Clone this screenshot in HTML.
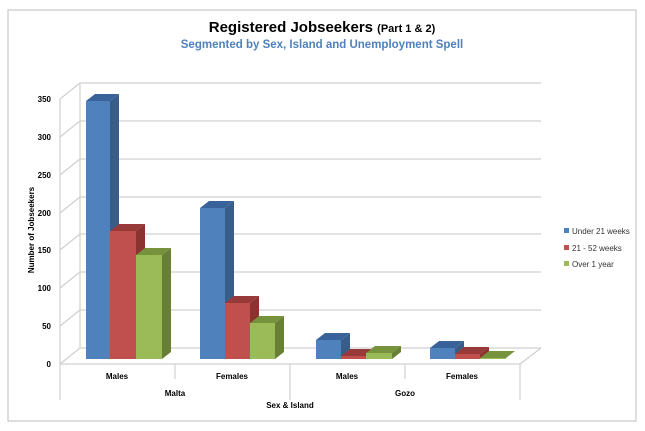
<!DOCTYPE html>
<html><head><meta charset="utf-8"><style>
body{margin:0;background:#fff}
text{font-family:"Liberation Sans",sans-serif}
</style></head><body>
<svg width="645" height="426" viewBox="0 0 645 426" xmlns="http://www.w3.org/2000/svg">
<rect x="8" y="10" width="628" height="411" fill="#fff" stroke="#c8c8c8" stroke-width="1.2"/>
<text x="322" y="32" text-anchor="middle" font-size="15" font-weight="bold" fill="#000">Registered Jobseekers <tspan font-size="11">(Part 1 &amp; 2)</tspan></text>
<text x="322" y="48" text-anchor="middle" font-size="11.5" font-weight="bold" fill="#4f81bd">Segmented by Sex, Island and Unemployment Spell</text>
<g stroke="#d0d0d0" stroke-width="1.2" fill="none">
<line x1="80" y1="83" x2="80" y2="348"/>
<line x1="80" y1="83" x2="541" y2="83"/><line x1="80" y1="121" x2="541" y2="121"/>
<line x1="80" y1="159" x2="541" y2="159"/><line x1="80" y1="197" x2="541" y2="197"/>
<line x1="80" y1="234" x2="541" y2="234"/><line x1="80" y1="272" x2="541" y2="272"/>
<line x1="80" y1="310" x2="541" y2="310"/><line x1="80" y1="348" x2="541" y2="348"/>
<line x1="60" y1="99" x2="80" y2="83"/><line x1="60" y1="137" x2="80" y2="121"/>
<line x1="60" y1="175" x2="80" y2="159"/><line x1="60" y1="213" x2="80" y2="197"/>
<line x1="60" y1="250" x2="80" y2="234"/><line x1="60" y1="288" x2="80" y2="272"/>
<line x1="60" y1="326" x2="80" y2="310"/><line x1="60" y1="364" x2="80" y2="348"/>
<line x1="520" y1="364" x2="541" y2="348"/>
<line x1="60" y1="364" x2="520" y2="364"/>
<line x1="60" y1="99" x2="60" y2="400"/>
<line x1="175" y1="364" x2="175" y2="379"/>
<line x1="290" y1="364" x2="290" y2="400"/>
<line x1="405" y1="364" x2="405" y2="379"/>
<line x1="520" y1="364" x2="520" y2="400"/>
</g>
<g font-size="8" font-weight="bold" fill="#000" text-anchor="end">
<text x="51" y="102">350</text><text x="51" y="140">300</text><text x="51" y="178">250</text>
<text x="51" y="216">200</text><text x="51" y="253">150</text><text x="51" y="291">100</text>
<text x="51" y="329">50</text><text x="51" y="367">0</text>
</g>
<text transform="translate(34,230) rotate(-90)" text-anchor="middle" font-size="8" font-weight="bold">Number of Jobseekers</text>
<g font-size="8" font-weight="bold" text-anchor="middle">
<text x="117" y="379">Males</text><text x="232" y="379">Females</text>
<text x="347" y="379">Males</text><text x="462" y="379">Females</text>
<text x="175" y="396">Malta</text><text x="405" y="396">Gozo</text>
<text x="290" y="408">Sex &amp; Island</text>
</g>
<g id="bars"></g>
<g font-size="8" fill="#333">
<rect x="564" y="228" width="5" height="5" fill="#4f81bd"/><text x="572" y="234">Under 21 weeks</text>
<rect x="564" y="245" width="5" height="5" fill="#c0504d"/><text x="572" y="251">21 - 52 weeks</text>
<rect x="564" y="261" width="5" height="5" fill="#9bbb59"/><text x="572" y="267">Over 1 year</text>
</g>
<g>
<!-- bars generated manually -->
<polygon points="110,101 119,94 119,352 110,359" fill="#385d8a"/><polygon points="86,101 110,101 119,94 95,94" fill="#3a629a"/><rect x="86" y="101" width="24" height="258" fill="#4f81bd"/>
<polygon points="136,231 145,224 145,352 136,359" fill="#8c3230"/><polygon points="110,231 136,231 145,224 119,224" fill="#98393a"/><rect x="110" y="231" width="26" height="128" fill="#c0504d"/>
<polygon points="162,255 171,248 171,352 162,359" fill="#687f35"/><polygon points="136,255 162,255 171,248 145,248" fill="#76923c"/><rect x="136" y="255" width="26" height="104" fill="#9bbb59"/>
<polygon points="225,208 234,201 234,352 225,359" fill="#385d8a"/><polygon points="200,208 225,208 234,201 209,201" fill="#3a629a"/><rect x="200" y="208" width="25" height="151" fill="#4f81bd"/>
<polygon points="250,303 259,296 259,352 250,359" fill="#8c3230"/><polygon points="225,303 250,303 259,296 234,296" fill="#98393a"/><rect x="225" y="303" width="25" height="56" fill="#c0504d"/>
<polygon points="275,323 284,316 284,352 275,359" fill="#687f35"/><polygon points="250,323 275,323 284,316 259,316" fill="#76923c"/><rect x="250" y="323" width="25" height="36" fill="#9bbb59"/>
<polygon points="341,340 350,333 350,352 341,359" fill="#385d8a"/><polygon points="316,340 341,340 350,333 325,333" fill="#3a629a"/><rect x="316" y="340" width="25" height="19" fill="#4f81bd"/>
<polygon points="366,356 375,349 375,352 366,359" fill="#8c3230"/><polygon points="341,356 366,356 375,349 350,349" fill="#98393a"/><rect x="341" y="356" width="25" height="3" fill="#c0504d"/>
<polygon points="392,353 401,346 401,352 392,359" fill="#687f35"/><polygon points="366,353 392,353 401,346 375,346" fill="#76923c"/><rect x="366" y="353" width="26" height="6" fill="#9bbb59"/>
<polygon points="455,348 464,341 464,352 455,359" fill="#385d8a"/><polygon points="430,348 455,348 464,341 439,341" fill="#3a629a"/><rect x="430" y="348" width="25" height="11" fill="#4f81bd"/>
<polygon points="480,354 489,347 489,352 480,359" fill="#8c3230"/><polygon points="455,354 480,354 489,347 464,347" fill="#98393a"/><rect x="455" y="354" width="25" height="5" fill="#c0504d"/>
<polygon points="480,358 506,358 515,351 489,351" fill="#76923c"/><rect x="480" y="358" width="26" height="1" fill="#9bbb59"/>
</g>
</svg>
</body></html>
